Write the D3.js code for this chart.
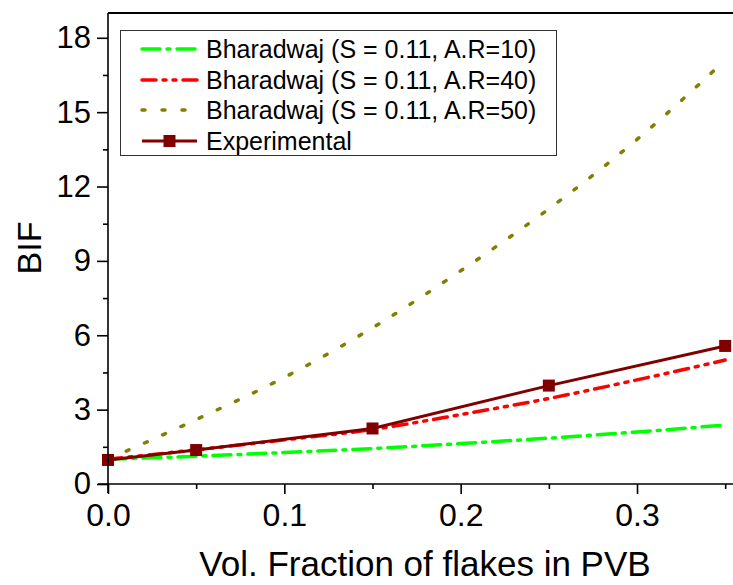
<!DOCTYPE html>
<html>
<head>
<meta charset="utf-8">
<script src="https://cdn.jsdelivr.net/npm/d3@7"></script>
<style>
  body { margin: 0; background: #fff; }
  svg { font-family: "Liberation Sans", Arial, sans-serif; }
</style>
</head>
<body>
<div class="svg-container"></div>
<script>
var fractions = [0, 0.05, 0.1, 0.15, 0.2, 0.25, 0.3, 0.35];
var ar10 = [1.0, 1.12, 1.27, 1.43, 1.63, 1.85, 2.1, 2.38];
var ar40 = [1.0, 1.38, 1.78, 2.2, 2.8, 3.45, 4.2, 5.0];
var ar50 = [1.0, 2.6, 4.3, 6.3, 8.6, 11.1, 13.9, 17.1];
var expX = [0, 0.05, 0.15, 0.25, 0.35];
var expY = [0.97, 1.37, 2.24, 3.97, 5.57];
var xTicks = [0, 0.1, 0.2, 0.3];
var xMinor = [0.05, 0.15, 0.25, 0.35];
var yTicks = [0, 3, 6, 9, 12, 15, 18];
var yMinor = [1.5, 4.5, 7.5, 10.5, 13.5, 16.5];
var legendLabels = ["Bharadwaj (S = 0.11, A.R=10)", "Bharadwaj (S = 0.11, A.R=40)",
                    "Bharadwaj (S = 0.11, A.R=50)", "Experimental"];

var width = 733, height = 585;
var mLeft = 108, mBottom = 484, mTop = 13, mRight = 734;

var svg = d3.select('.svg-container').append('svg')
  .attr('width', width)
  .attr('height', height);

var x = d3.scaleLinear().domain([0, 0.355]).range([mLeft, mRight]);
var y = d3.scaleLinear().domain([0, 19]).range([mBottom, mTop]);

var series = [
  {vals: ar10, color: '#00ff00', dash: '18,7,3,7'},
  {vals: ar40, color: '#ff0000', dash: '14,7,3,7,3,7'},
  {vals: ar50, color: '#808000', dash: '3,17'}
];

var line = d3.line()
  .x(function(d) { return x(d[0]); })
  .y(function(d) { return y(d[1]); })
  .curve(d3.curveMonotoneX);

var plot = svg.append('g');

series.forEach(function(s) {
  plot.append('path')
    .datum(fractions.map(function(f, i) { return [f, s.vals[i]]; }))
    .attr('d', line)
    .attr('fill', 'none')
    .attr('stroke', s.color)
    .attr('stroke-width', 3.5)
    .attr('stroke-linecap', 'round')
    .attr('stroke-dasharray', s.dash);
});

var expData = expX.map(function(f, i) { return [f, expY[i]]; });
plot.append('path')
  .datum(expData)
  .attr('d', d3.line().x(function(d) { return x(d[0]); }).y(function(d) { return y(d[1]); }))
  .attr('fill', 'none')
  .attr('stroke', '#800000')
  .attr('stroke-width', 3);

plot.selectAll('.marker')
  .data(expData)
  .enter().append('rect')
  .attr('class', 'marker')
  .attr('x', function(d) { return x(d[0]) - 6; })
  .attr('y', function(d) { return y(d[1]) - 6; })
  .attr('width', 12)
  .attr('height', 12)
  .attr('fill', '#800000');

// axes
var xAxis = svg.append('g')
  .attr('transform', 'translate(0,' + mBottom + ')')
  .call(d3.axisBottom(x).tickValues(xTicks).tickSize(10).tickPadding(9)
    .tickFormat(d3.format('.1f')));
svg.append('g')
  .attr('transform', 'translate(0,' + mBottom + ')')
  .call(d3.axisBottom(x).tickValues(xMinor).tickSize(5).tickFormat(''))
  .select('.domain').remove();

var yAxis = svg.append('g')
  .attr('transform', 'translate(' + mLeft + ',0)')
  .call(d3.axisLeft(y).tickValues(yTicks).tickSize(11).tickPadding(6));
svg.append('g')
  .attr('transform', 'translate(' + mLeft + ',0)')
  .call(d3.axisLeft(y).tickValues(yMinor).tickSize(5).tickFormat(''))
  .select('.domain').remove();

svg.selectAll('.domain').attr('stroke', '#000').attr('stroke-width', 1.6);
svg.selectAll('.tick line').attr('stroke', '#000').attr('stroke-width', 1.6);
xAxis.selectAll('text').attr('font-size', 32).attr('fill', '#000');
yAxis.selectAll('text').attr('font-size', 31).attr('fill', '#000');
xAxis.select('.domain').attr('d', 'M' + (mLeft - 10) + ',0H' + (mRight + 2));
yAxis.select('.domain').attr('d', 'M0,' + (mBottom + 9) + 'V' + mTop);

// top frame line
svg.append('line')
  .attr('x1', mLeft).attr('x2', width)
  .attr('y1', mTop).attr('y2', mTop)
  .attr('stroke', '#000').attr('stroke-width', 2);

// axis titles
svg.append('text')
  .attr('x', 425).attr('y', 576)
  .attr('text-anchor', 'middle')
  .attr('font-size', 35)
  .text('Vol. Fraction of flakes in PVB');

svg.append('text')
  .attr('transform', 'translate(41,248) rotate(-90)')
  .attr('text-anchor', 'middle')
  .attr('font-size', 34)
  .text('BIF');

// legend
var legend = svg.append('g');
legend.append('rect')
  .attr('x', 120.5).attr('y', 30.5)
  .attr('width', 436).attr('height', 125)
  .attr('fill', '#fff')
  .attr('stroke', '#333').attr('stroke-width', 1);

var rowY = [49, 80, 110, 141];
var legendStyles = series.concat([{color: '#800000', dash: null}]);

legend.selectAll('.item')
  .data(legendLabels)
  .enter().append('g')
  .attr('class', 'item')
  .each(function(label, i) {
    var g = d3.select(this);
    var st = legendStyles[i];
    g.append('line')
      .attr('x1', 142).attr('x2', 197)
      .attr('y1', rowY[i]).attr('y2', rowY[i])
      .attr('stroke', st.color)
      .attr('stroke-width', i === 3 ? 3 : 3.5)
      .attr('stroke-linecap', i === 3 ? 'butt' : 'round')
      .attr('stroke-dasharray', st.dash);
    if (i === 3) {
      g.append('rect')
        .attr('x', 163.5).attr('y', rowY[i] - 6)
        .attr('width', 12).attr('height', 12)
        .attr('fill', '#800000');
    }
    g.append('text')
      .attr('x', 206).attr('y', rowY[i] + 9)
      .attr('font-size', 25)
      .text(label);
  });
</script>
</body>
</html>
